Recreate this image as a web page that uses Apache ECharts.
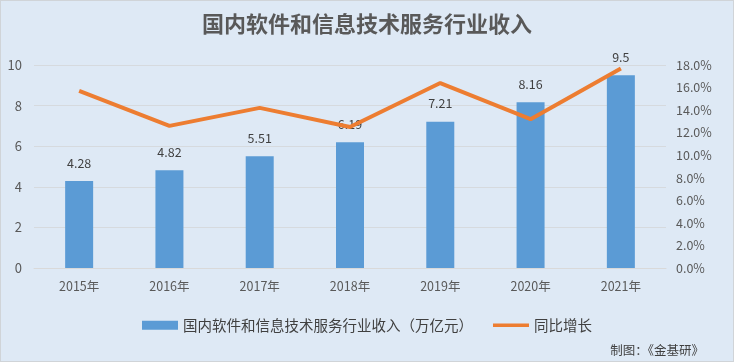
<!DOCTYPE html>
<html><head><meta charset="utf-8">
<script src="https://cdn.jsdelivr.net/npm/echarts@6/dist/echarts.min.js"></script>
<style>html,body{margin:0;padding:0;background:#fff}#c{width:734px;height:362px;box-sizing:border-box;border:1px solid #d0d4d8}</style>
</head><body><div id="c"></div>
<script>
const categories = ['2015年','2016年','2017年','2018年','2019年','2020年','2021年'];
const revenue = [4.28, 4.82, 5.51, 6.19, 7.21, 8.16, 9.5];
const growth = [15.7, 12.6, 14.2, 12.5, 16.4, 13.2, 17.7];
const titleText = '国内软件和信息技术服务行业收入';
const barName = '国内软件和信息技术服务行业收入（万亿元）';
const lineName = '同比增长';
const sourceText = '制图：《金基研》';

const chart = echarts.init(document.getElementById('c'), null, {renderer:'canvas'});
const font = '"Noto Sans CJK SC", "Noto Sans", sans-serif';
chart.setOption({
  backgroundColor: '#dee9f5',
  animation: false,
  textStyle: {fontFamily: font},
  title: [{
    text: titleText, left: 'center', top: 7,
    textStyle: {fontSize: 22, fontWeight: 'bold', color: '#595959', fontFamily: font}
  }, {
    text: sourceText, right: 24, top: 338,
    textStyle: {fontSize: 12.5, fontWeight: 'normal', color: '#404040', fontFamily: font}
  }],
  legend: {
    top: 312, left: 'center', itemGap: 20, itemWidth: 36, itemHeight: 9,
    textStyle: {fontSize: 14.5, color: '#404040', fontFamily: font},
    data: [{name: barName, icon: 'rect'}, {name: lineName, icon: 'path://M0,0H40V4H0Z'}]
  },
  grid: {left: 33, right: 67, top: 64, bottom: 93, containLabel: false},
  xAxis: {
    type: 'category', data: categories,
    axisLine: {show: true, lineStyle: {color: '#d9d9d9'}},
    axisTick: {show: false},
    axisLabel: {fontSize: 12.5, color: '#595959', margin: 12}
  },
  yAxis: [{
    type: 'value', min: 0, max: 10, interval: 2,
    axisLine: {show: false}, axisTick: {show: false},
    splitLine: {lineStyle: {color: '#d6dade'}},
    axisLabel: {fontSize: 13, color: '#595959', margin: 12}
  }, {
    type: 'value', min: 0, max: 18, interval: 2,
    axisLine: {show: false}, axisTick: {show: false},
    splitLine: {show: false},
    axisLabel: {fontSize: 12.5, color: '#595959', margin: 10, formatter: v => v.toFixed(1) + '%'}
  }],
  series: [{
    name: barName, type: 'bar', data: revenue, barWidth: 28,
    itemStyle: {color: '#5b9bd5'},
    label: {show: true, position: 'top', distance: 12, fontSize: 12.5, color: '#404040'}
  }, {
    name: lineName, type: 'line', yAxisIndex: 1, data: growth,
    symbol: 'none', lineStyle: {color: '#ed7d31', width: 4},
    itemStyle: {color: '#ed7d31'}
  }]
});
</script></body></html>
